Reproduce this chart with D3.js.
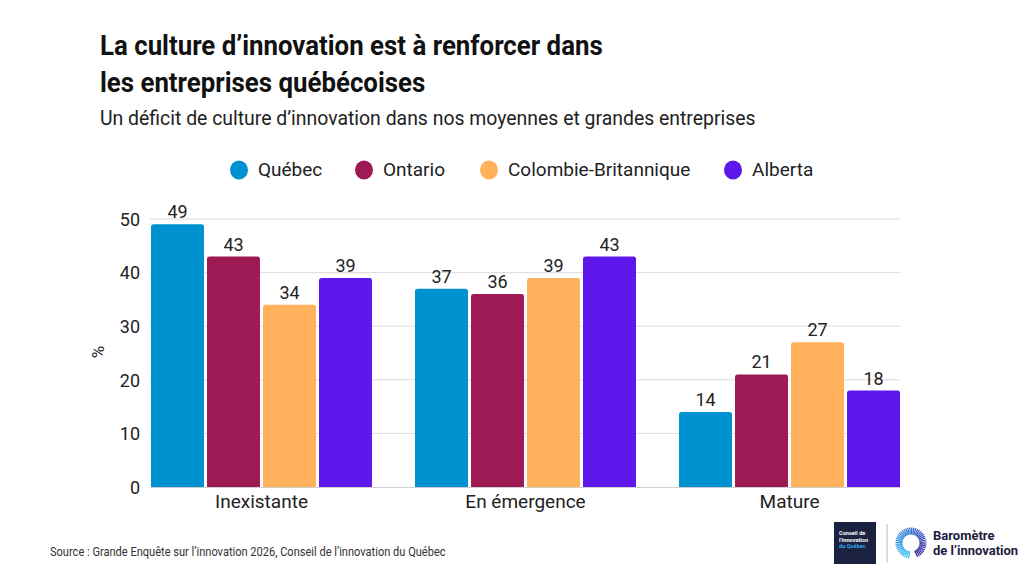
<!DOCTYPE html>
<html><head><meta charset="utf-8">
<script src="https://cdn.jsdelivr.net/npm/d3@7"></script>
<style>
body{margin:0;background:#fff;}
svg{display:block;font-family:Roboto,"Noto Sans",sans-serif;}
</style></head>
<body><svg id="c" width="1024" height="576"></svg>
<script>
const categories = ["Inexistante", "En émergence", "Mature"];
const seriesNames = ["Québec", "Ontario", "Colombie-Britannique", "Alberta"];
const quebec = [49, 37, 14];
const ontario = [43, 36, 21];
const colombieBritannique = [34, 39, 27];
const alberta = [39, 43, 18];
const yTicks = [0, 10, 20, 30, 40, 50];
const colors = ["#0091d0", "#9e1a55", "#ffb25b", "#5e17eb"];
const seriesValues = [quebec, ontario, colombieBritannique, alberta];

const svg = d3.select("#c");

function ctext(g, x, y, txt, opts) {
  return g.append("text")
    .attr("transform", `translate(${x},${y}) scale(${opts.scale || 1},1)`)
    .attr("font-size", opts.size)
    .attr("font-weight", opts.weight || 400)
    .attr("fill", opts.fill || "#222")
    .attr("text-anchor", opts.anchor || "start")
    .text(txt);
}

// Title
ctext(svg, 100, 55, "La culture d’innovation est à renforcer dans", {size: 27, weight: 700, fill: "#111", scale: 0.957});
ctext(svg, 100, 92, "les entreprises québécoises", {size: 27, weight: 700, fill: "#111", scale: 0.957});
ctext(svg, 100, 125, "Un déficit de culture d’innovation dans nos moyennes et grandes entreprises", {size: 20.5, fill: "#222", scale: 0.947});

// Legend
const legendX = [239, 364, 489, 733];
seriesNames.forEach((n, i) => {
  svg.append("ellipse").attr("cx", legendX[i]).attr("cy", 170).attr("rx", 9).attr("ry", 9.5).attr("fill", colors[i]);
  ctext(svg, legendX[i] + 19, 176, n, {size: 19, fill: "#222", scale: 1.0});
});

// Scales
const x0 = d3.scaleBand().domain(categories).range([151, 900]).paddingInner(0.163).paddingOuter(0);
const x1 = d3.scaleBand().domain(seriesNames).range([0, x0.bandwidth()]).paddingInner(0.054);
const y = d3.scaleLinear().domain([0, 50]).range([487, 219]);

// Grid
svg.append("g").selectAll("line").data(yTicks.filter(d => d > 0)).join("line")
  .attr("x1", 150).attr("x2", 900).attr("y1", d => y(d)).attr("y2", d => y(d))
  .attr("stroke", "#dcdcdc").attr("stroke-width", 1);

// Y axis labels
const yAxis = svg.append("g").attr("transform", "translate(140,0)")
  .call(d3.axisLeft(y).tickValues(yTicks).tickSize(0).tickPadding(0));
yAxis.select(".domain").remove();
yAxis.selectAll("text").attr("font-size", 18).attr("fill", "#222").attr("font-family", "Roboto")
  .attr("dy", "0.35em");

// % label
svg.append("text").attr("transform", "translate(104,352) rotate(-90)")
  .attr("text-anchor", "middle").attr("font-size", 17).attr("fill", "#222").text("%");

// Bars
const r = 2.5;
function barPath(x, yTop, w, yBase) {
  return `M${x},${yBase}V${yTop + r}Q${x},${yTop} ${x + r},${yTop}H${x + w - r}Q${x + w},${yTop} ${x + w},${yTop + r}V${yBase}Z`;
}
const groups = svg.append("g").selectAll("g").data(categories).join("g")
  .attr("transform", d => `translate(${x0(d)},0)`);
groups.each(function(cat, ci) {
  const g = d3.select(this);
  seriesNames.forEach((s, si) => {
    const v = seriesValues[si][ci];
    const bx = x1(s), bw = x1.bandwidth();
    g.append("path").attr("d", barPath(bx, y(v), bw, y(0))).attr("fill", colors[si]);
    ctext(g, bx + bw / 2, y(v) - 6, String(v), {size: 18, anchor: "middle", fill: "#222"});
  });
});

// baseline
svg.append("line").attr("x1", 150).attr("x2", 900).attr("y1", 487.5).attr("y2", 487.5).attr("stroke", "#cfcfcf");

// Category labels
categories.forEach(c => {
  ctext(svg, x0(c) + x0.bandwidth() / 2, 508, c, {size: 19, anchor: "middle", fill: "#222"});
});

// Source
ctext(svg, 50, 556, "Source : Grande Enquête sur l’innovation 2026, Conseil de l’innovation du Québec", {size: 12.5, fill: "#333", scale: 0.885});

// Logos
const lg = svg.append("g");
lg.append("rect").attr("x", 834).attr("y", 522).attr("width", 42).attr("height", 42).attr("fill", "#1b2140");
[["Conseil de", "#fff", 535], ["l’innovation", "#fff", 541.5], ["du Québec", "#2aa8e8", 548]].forEach(([t, f, yy]) => {
  lg.append("text").attr("x", 839).attr("y", yy).attr("font-size", 5.6).attr("font-weight", 700).attr("fill", f).text(t);
});
lg.append("line").attr("x1", 887).attr("x2", 887).attr("y1", 524).attr("y2", 563).attr("stroke", "#bbb").attr("stroke-width", 1);
const cx = 911, cy = 543;
const nTicks = 44;
const colScale = d3.scaleLinear().domain([0, 0.5, 1]).range(["#3fc3f2", "#2f6fd1", "#3a1a8a"]);
for (let i = 0; i < nTicks; i++) {
  const t = i / nTicks;
  const a = Math.PI * 0.55 + t * Math.PI * 1.85;
  const r1 = 8.5, r2 = 15.5;
  lg.append("line")
    .attr("x1", cx + r1 * Math.cos(a)).attr("y1", cy + r1 * Math.sin(a))
    .attr("x2", cx + r2 * Math.cos(a)).attr("y2", cy + r2 * Math.sin(a))
    .attr("stroke", colScale(t)).attr("stroke-width", 1.2);
}
lg.append("text").attr("x", 933).attr("y", 540).attr("font-size", 13).attr("font-weight", 700).attr("fill", "#1b2140").text("Baromètre");
lg.append("text").attr("x", 933).attr("y", 555).attr("font-size", 13).attr("font-weight", 700).attr("fill", "#1b2140").text("de l’innovation");
</script>
</body></html>
